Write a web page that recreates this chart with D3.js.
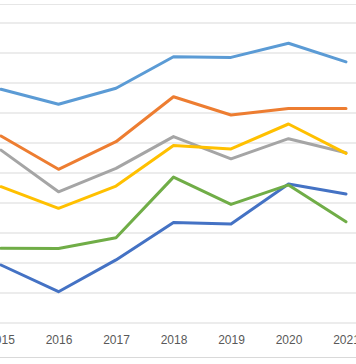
<!DOCTYPE html>
<html>
<head>
<meta charset="utf-8">
<script src="https://cdn.jsdelivr.net/npm/d3@7"></script>
<style>
  html, body { margin: 0; padding: 0; background: #fff; }
  svg { display: block; }
</style>
</head>
<body>
<svg id="chart" width="356" height="364"></svg>
<script>
const years = ["2015", "2016", "2017", "2018", "2019", "2020", "2021"];
const series1 = [1.90, 1.01, 2.07, 3.32, 3.27, 4.60, 4.27];   // dark blue
const series2 = [6.20, 5.09, 6.01, 7.51, 6.90, 7.12, 7.12];   // orange
const series3 = [5.73, 4.34, 5.12, 6.18, 5.44, 6.11, 5.64];   // gray
const series4 = [4.51, 3.79, 4.53, 5.88, 5.77, 6.60, 5.62];   // yellow
const series5 = [7.76, 7.26, 7.79, 8.84, 8.82, 9.29, 8.67];   // light blue
const series6 = [2.46, 2.45, 2.81, 4.83, 3.92, 4.57, 3.34];   // green
const yTicks = [0, 1, 2, 3, 4, 5, 6, 7, 8, 9, 10];

const seriesList = [
  { values: series1, color: "#4472C4" },
  { values: series2, color: "#ED7D31" },
  { values: series3, color: "#A5A5A5" },
  { values: series4, color: "#FFC000" },
  { values: series5, color: "#5B9BD5" },
  { values: series6, color: "#70AD47" }
];

const svg = d3.select("#chart");
const W = 356;

const x = d3.scalePoint().domain(years).range([1, 346]);
const y = d3.scaleLinear().domain([0, 10]).range([322, 22]);

// outer frame lines
svg.append("line").attr("x1", 0).attr("x2", W).attr("y1", 4.5).attr("y2", 4.5)
  .attr("stroke", "#E6E6E6").attr("stroke-width", 1);
svg.append("line").attr("x1", 0).attr("x2", W).attr("y1", 357.5).attr("y2", 357.5)
  .attr("stroke", "#D9D9D9").attr("stroke-width", 1);

// gridlines
const grid = svg.append("g").attr("transform", "translate(0,0.5)")
  .call(d3.axisLeft(y).tickValues(yTicks).tickSize(-W).tickFormat(""));
grid.select(".domain").remove();
grid.selectAll(".tick line").attr("stroke", "#D9D9D9").attr("stroke-width", 1);

// x axis labels
const xa = svg.append("g").attr("transform", "translate(0,322.5)")
  .call(d3.axisBottom(x).tickSize(0).tickPadding(0));
xa.select(".domain").remove();
xa.selectAll(".tick text")
  .attr("y", 21)
  .attr("dy", 0)
  .attr("fill", "#595959")
  .style("font-family", "'Liberation Sans', Arial, sans-serif")
  .style("font-size", "12px");

// lines
const line = d3.line()
  .x((d, i) => x(years[i]))
  .y(d => y(d));

svg.append("g").selectAll("path")
  .data(seriesList)
  .join("path")
  .attr("d", d => line(d.values))
  .attr("fill", "none")
  .attr("stroke", d => d.color)
  .attr("stroke-width", 3)
  .attr("stroke-linejoin", "round")
  .attr("stroke-linecap", "round");
</script>
</body>
</html>
